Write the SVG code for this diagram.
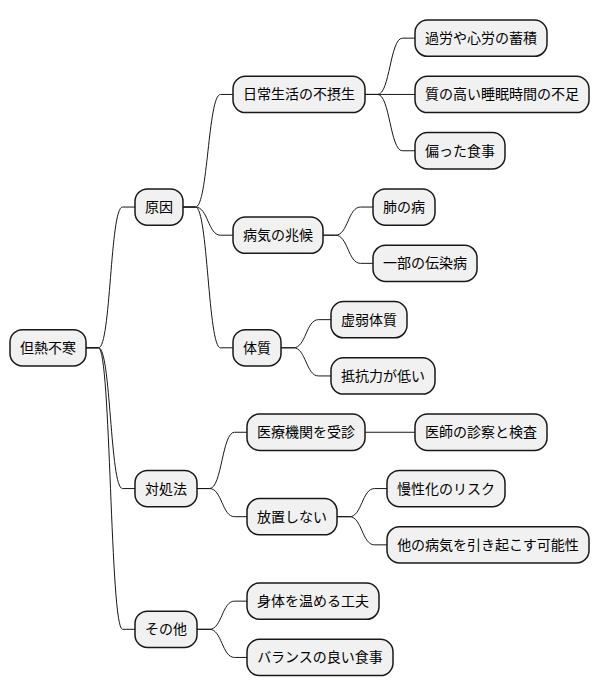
<svg xmlns="http://www.w3.org/2000/svg" width="600" height="696" viewBox="0 0 600 696">
<style>
.n rect{fill:#F1F1F1;stroke:#181818;stroke-width:1.5}
.n text{font-family:"Noto Sans CJK JP","Noto Sans",sans-serif;font-size:14px;fill:#000;text-anchor:middle}
#connectors path{fill:none;stroke:#181818;stroke-width:1}
</style>
<rect width="600" height="696" fill="#FFFFFF"/>
<g id="connectors">
<path d="M86,347.8 L98.5,347.8 C111,347.8 110,207.05 122.5,207.05 L135,207.05"/>
<path d="M86,347.8 L98.5,347.8 C111,347.8 110,488.55 122.5,488.55 L135,488.55"/>
<path d="M86,347.8 L98.5,347.8 C111,347.8 110,629.3 122.5,629.3 L135,629.3"/>
<path d="M183,207.05 L195.5,207.05 C208,207.05 208,94.45 220.5,94.45 L233,94.45"/>
<path d="M183,207.05 L195.5,207.05 C208,207.05 208,235.2 220.5,235.2 L233,235.2"/>
<path d="M183,207.05 L195.5,207.05 C208,207.05 208,347.8 220.5,347.8 L233,347.8"/>
<path d="M365,94.45 L377.5,94.45 C390,94.45 390,38.15 402.5,38.15 L415,38.15"/>
<path d="M365,94.45 L415,94.45"/>
<path d="M365,94.45 L377.5,94.45 C390,94.45 390,150.75 402.5,150.75 L415,150.75"/>
<path d="M323,235.2 L335.5,235.2 C348,235.2 348,207.05 360.5,207.05 L373,207.05"/>
<path d="M323,235.2 L335.5,235.2 C348,235.2 348,263.35 360.5,263.35 L373,263.35"/>
<path d="M281,347.8 L293.5,347.8 C306,347.8 306,319.65 318.5,319.65 L331,319.65"/>
<path d="M281,347.8 L293.5,347.8 C306,347.8 306,375.95 318.5,375.95 L331,375.95"/>
<path d="M197,488.55 L209.5,488.55 C222,488.55 222,432.25 234.5,432.25 L247,432.25"/>
<path d="M197,488.55 L209.5,488.55 C222,488.55 222,516.7 234.5,516.7 L247,516.7"/>
<path d="M365,432.25 L415,432.25"/>
<path d="M337,516.7 L349.5,516.7 C362,516.7 362,488.55 374.5,488.55 L387,488.55"/>
<path d="M337,516.7 L349.5,516.7 C362,516.7 362,544.85 374.5,544.85 L387,544.85"/>
<path d="M197,629.3 L209.5,629.3 C222,629.3 222,601.15 234.5,601.15 L247,601.15"/>
<path d="M197,629.3 L209.5,629.3 C222,629.3 222,657.45 234.5,657.45 L247,657.45"/>
</g>
<g id="root" class="n"><rect x="10" y="329.65" width="76" height="36.3" rx="12.5"/><text x="48" y="352.8">但熱不寒</text></g>
<g id="cause" class="n"><rect x="135" y="188.9" width="48" height="36.3" rx="12.5"/><text x="159" y="212.05">原因</text></g>
<g id="daily" class="n"><rect x="233" y="76.3" width="132" height="36.3" rx="12.5"/><text x="299" y="99.45">日常生活の不摂生</text></g>
<g id="fatigue" class="n"><rect x="415" y="20" width="132" height="36.3" rx="12.5"/><text x="481" y="43.15">過労や心労の蓄積</text></g>
<g id="sleep" class="n"><rect x="415" y="76.3" width="174" height="36.3" rx="12.5"/><text x="502" y="99.45">質の高い睡眠時間の不足</text></g>
<g id="diet" class="n"><rect x="415" y="132.6" width="90" height="36.3" rx="12.5"/><text x="460" y="155.75">偏った食事</text></g>
<g id="sign" class="n"><rect x="233" y="217.05" width="90" height="36.3" rx="12.5"/><text x="278" y="240.2">病気の兆候</text></g>
<g id="lung" class="n"><rect x="373" y="188.9" width="62" height="36.3" rx="12.5"/><text x="404" y="212.05">肺の病</text></g>
<g id="infect" class="n"><rect x="373" y="245.2" width="104" height="36.3" rx="12.5"/><text x="425" y="268.35">一部の伝染病</text></g>
<g id="const" class="n"><rect x="233" y="329.65" width="48" height="36.3" rx="12.5"/><text x="257" y="352.8">体質</text></g>
<g id="weak" class="n"><rect x="331" y="301.5" width="76" height="36.3" rx="12.5"/><text x="369" y="324.65">虚弱体質</text></g>
<g id="resist" class="n"><rect x="331" y="357.8" width="104" height="36.3" rx="12.5"/><text x="383" y="380.95">抵抗力が低い</text></g>
<g id="treat" class="n"><rect x="135" y="470.4" width="62" height="36.3" rx="12.5"/><text x="166" y="493.55">対処法</text></g>
<g id="visit" class="n"><rect x="247" y="414.1" width="118" height="36.3" rx="12.5"/><text x="306" y="437.25">医療機関を受診</text></g>
<g id="exam" class="n"><rect x="415" y="414.1" width="132" height="36.3" rx="12.5"/><text x="481" y="437.25">医師の診察と検査</text></g>
<g id="neglect" class="n"><rect x="247" y="498.55" width="90" height="36.3" rx="12.5"/><text x="292" y="521.7">放置しない</text></g>
<g id="chronic" class="n"><rect x="387" y="470.4" width="118" height="36.3" rx="12.5"/><text x="446" y="493.55">慢性化のリスク</text></g>
<g id="other-ill" class="n"><rect x="387" y="526.7" width="202" height="36.3" rx="12.5"/><text x="488" y="549.85">他の病気を引き起こす可能性</text></g>
<g id="misc" class="n"><rect x="135" y="611.15" width="62" height="36.3" rx="12.5"/><text x="166" y="634.3">その他</text></g>
<g id="warm" class="n"><rect x="247" y="583" width="132" height="36.3" rx="12.5"/><text x="313" y="606.15">身体を温める工夫</text></g>
<g id="balance" class="n"><rect x="247" y="639.3" width="146" height="36.3" rx="12.5"/><text x="320" y="662.45">バランスの良い食事</text></g>
</svg>
